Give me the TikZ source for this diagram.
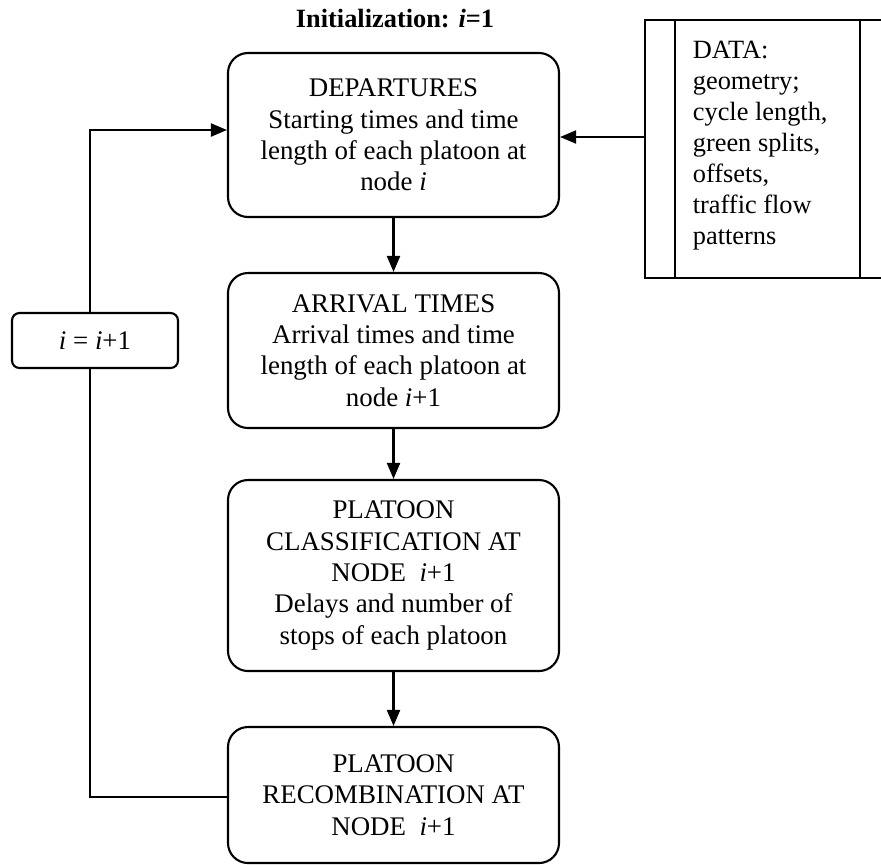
\documentclass[tikz,border=0pt]{standalone}
\usepackage{fontspec}
\setmainfont{Liberation Serif}
\usetikzlibrary{arrows.meta}
\begin{document}
\begin{tikzpicture}[
  box/.style={draw,line width=1.2pt,rounded corners=0.4cm,align=center,
    minimum width=6.62cm,font=\fontsize{15.3}{17.8}\selectfont},
  link/.style={line width=1.2pt,-{Triangle[length=0.32cm,width=0.26cm]}},
  plain/.style={line width=1.2pt}]
  \useasboundingbox (0,0) rectangle (17.62,-17.28);
  \node[font=\bfseries\fontsize{15}{18}\selectfont] (title) at (7.9,-0.38) {Initialization: \textit{i}=1};
  \node[box,minimum height=3.28cm] (dep) at (7.87,-2.7)
    {DEPARTURES\\Starting times and time\\length of each platoon at\\node \textit{i}};
  \node[box,minimum height=3.1cm] (arr) at (7.87,-7.01)
    {ARRIVAL TIMES\\Arrival times and time\\length of each platoon at\\node \textit{i}+1};
  \node[box,minimum height=3.82cm] (cls) at (7.87,-11.51)
    {PLATOON\\CLASSIFICATION AT\\NODE~ \textit{i}+1\\Delays and number of\\stops of each platoon};
  \node[box,minimum height=2.72cm] (rec) at (7.87,-15.9)
    {PLATOON\\RECOMBINATION AT\\NODE~ \textit{i}+1};
  \node[box,rounded corners=0.15cm,minimum width=3.32cm,minimum height=1.1cm] (inc) at (1.9,-6.81)
    {\textit{i} = \textit{i}+1};
  % data block
  \draw[plain] (17.62,-0.4) -- (12.9,-0.4) -- (12.9,-5.56) -- (17.62,-5.56);
  \draw[plain] (13.5,-0.4) -- (13.5,-5.56);
  \draw[plain] (17.2,-0.4) -- (17.2,-5.56);
  \coordinate (data) at (12.9,-2.74);
  \node[anchor=north west,align=left,inner sep=0pt,font=\fontsize{15}{17.6}\selectfont] (datatext) at (13.85,-0.82)
    {DATA:\\geometry;\\cycle length,\\green splits,\\offsets,\\traffic flow\\patterns};
  \draw[link] (data) -- (dep.east |- data);
  \draw[link] (dep) -- (arr);
  \draw[link] (arr) -- (cls);
  \draw[link] (cls) -- (rec);
  \coordinate (back) at (1.8,-15.94);
  \coordinate (up) at (1.8,-2.6);
  \draw[plain] (rec.west |- back) -- (back) -- (back |- inc.south);
  \draw[link] (up |- inc.north) -- (up) -- (dep.west |- up);
\end{tikzpicture}
\end{document}
